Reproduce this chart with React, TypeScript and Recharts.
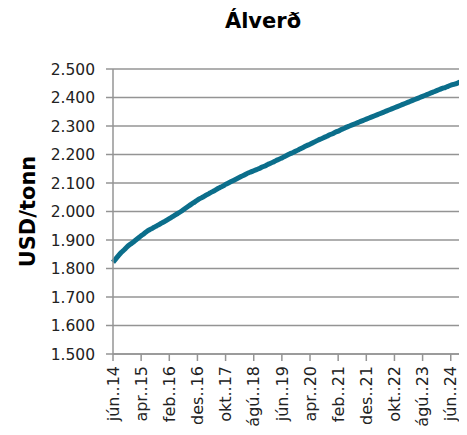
import React from 'react';
import { LineChart, Line, XAxis, YAxis, CartesianGrid } from 'recharts';

// Monthly series, jún 2014 – okt 2024
const MONTHS = ['jan', 'feb', 'mar', 'apr', 'maí', 'jún', 'júl', 'ágú', 'sep', 'okt', 'nóv', 'des'];
const START_YEAR = 2014;
const START_MONTH = 5; // jún

const PRICES = [
  1822, 1834, 1846, 1857, 1866, 1876, 1884,
  1891, 1899, 1907, 1915, 1922, 1930,
  1936, 1941, 1947, 1952, 1958, 1963,
  1969, 1975, 1981, 1987, 1993, 1999,
  2006, 2013, 2020, 2027, 2033, 2040,
  2046, 2051, 2057, 2062, 2068, 2073,
  2079, 2084, 2089, 2095, 2100, 2105,
  2110, 2115, 2120, 2125, 2130, 2135,
  2139, 2143, 2147, 2151, 2156, 2160,
  2165, 2169, 2174, 2179, 2183, 2188,
  2193, 2198, 2203, 2207, 2212, 2217,
  2222, 2227, 2232, 2236, 2241, 2246,
  2251, 2255, 2260, 2264, 2269, 2273,
  2278, 2282, 2287, 2291, 2296, 2300,
  2304, 2308, 2312, 2316, 2320, 2324,
  2328, 2332, 2336, 2340, 2344, 2348,
  2352, 2356, 2360, 2364, 2368, 2372,
  2376, 2380, 2384, 2388, 2392, 2396,
  2400, 2404, 2408, 2412, 2416, 2420,
  2424, 2428, 2432, 2435, 2439, 2443,
  2446, 2449, 2453, 2456,
];

const Y_TICKS = [1500, 1600, 1700, 1800, 1900, 2000, 2100, 2200, 2300, 2400, 2500];

const data = PRICES.map((v, i) => {
  const m = START_MONTH + i;
  const year = START_YEAR + Math.floor(m / 12);
  return { label: `${MONTHS[m % 12]}..${String(year).slice(2)}`, value: v };
});

const FONT = '"DejaVu Sans", sans-serif';
const GRID = '#949494';
const LINE = '#0b6e8b';

const fmt = (v: number) => String(v).replace(/(\d)(\d{3})$/, '$1.$2');

const XTick = (props: any) => {
  const { x, payload } = props;
  const y = 366;
  return (
    <text
      x={x}
      y={y}
      dy="0.36em"
      transform={`rotate(-90 ${x} ${y})`}
      textAnchor="end"
      fontFamily={FONT}
      fontSize={16}
      fill="#222"
    >
      {payload.value}
    </text>
  );
};

const YLabel = (props: any) => {
  const vb = props.viewBox || { y: 69, height: 285 };
  const cx = 28;
  const cy = vb.y + vb.height / 2;
  return (
    <text
      x={cx}
      y={cy}
      transform={`rotate(-90 ${cx} ${cy})`}
      textAnchor="middle"
      dominantBaseline="central"
      fontFamily={FONT}
      fontWeight="bold"
      fontSize={21}
      fill="#000"
    >
      USD/tonn
    </text>
  );
};

export default function App() {
  return (
    <div style={{ position: 'relative', margin: -8, width: 467, height: 435, background: '#fff' }}>
      <div
        style={{
          position: 'absolute',
          left: 163,
          width: 200,
          top: 9,
          textAlign: 'center',
          fontFamily: FONT,
          fontWeight: 'bold',
          fontSize: 21,
          color: '#000',
        }}
      >
        Álverð
      </div>
      <LineChart width={467} height={435} data={data} margin={{ top: 69, right: 5, bottom: 0, left: 0 }}>
        <CartesianGrid vertical={false} stroke={GRID} strokeWidth={1.5} />
        <XAxis
          dataKey="label"
          interval={9}
          height={81}
          tickSize={7}
          tick={<XTick />}
          stroke={GRID}
          strokeWidth={1.5}
        />
        <YAxis
          domain={[1500, 2500]}
          ticks={Y_TICKS}
          width={113}
          tickSize={7}
          tickMargin={11}
          tickFormatter={fmt}
          tick={{ fontFamily: FONT, fontSize: 15.5, fill: '#222' }}
          stroke={GRID}
          strokeWidth={1.5}
          label={<YLabel />}
        />
        <Line
          type="monotone"
          dataKey="value"
          stroke={LINE}
          strokeWidth={5}
          dot={false}
          isAnimationActive={false}
        />
      </LineChart>
    </div>
  );
}
